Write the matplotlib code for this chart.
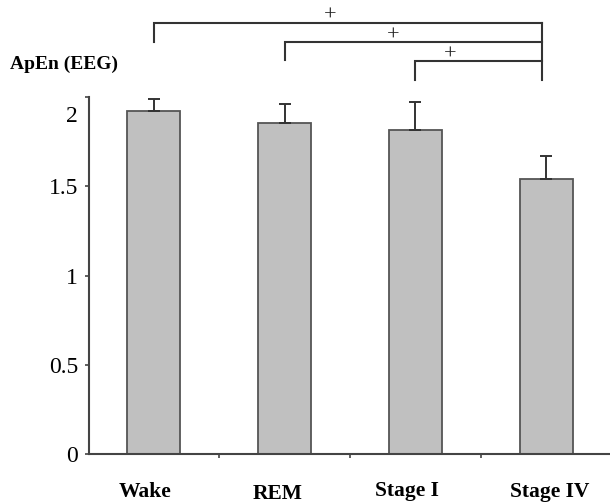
import matplotlib
matplotlib.use("Agg")
import matplotlib.pyplot as plt
import matplotlib.transforms as mtransforms
import numpy as np

categories = ["Wake", "REM", "Stage I", "Stage IV"]
values = [1.92, 1.852, 1.813, 1.539]
errors = [0.067, 0.107, 0.157, 0.129]
yticks = [0, 0.5, 1, 1.5, 2]
ytick_labels = ["0", "0.5", "1", "1.5", "2"]
# significance brackets: (left index, right index, bar y, left-leg bottom, plus x)
brackets = [(0, 3, 2.417, 2.306, 1.35),
            (1, 3, 2.306, 2.21, 1.83),
            (2, 3, 2.199, 2.093, 2.27)]

plt.rcParams['font.family'] = ['Liberation Serif', 'DejaVu Serif']

fig = plt.figure(figsize=(6.1, 5.04), dpi=100)
W, H = 610, 504
left, bottom, top, right = 89, 454, 97, 610
ax = fig.add_axes([left / W, 1 - bottom / H, (right - left) / W, (bottom - top) / H])

x = np.arange(len(categories))
axis_col = "#444444"
ax.bar(x, values, width=0.405, color="#c0c0c0", edgecolor="#555555", linewidth=1.3, zorder=2)
ax.errorbar(x, values, yerr=[np.zeros(len(errors)), errors], fmt="none",
            ecolor="#333333", elinewidth=1.4, capsize=4, capthick=1.4, zorder=3)

ax.set_xlim(-0.497, 3.489)
ax.set_ylim(0, 2)

for s in ["top", "right"]:
    ax.spines[s].set_visible(False)
for s in ["left", "bottom"]:
    ax.spines[s].set_color(axis_col)
    ax.spines[s].set_linewidth(1.5)

ax.set_yticks(yticks)
ax.set_yticklabels(ytick_labels, fontsize=17)
ax.tick_params(axis="y", direction="out", length=3, width=1.2, color=axis_col, pad=5)

ax.set_xticks(x)
ax.set_xticklabels(categories, fontsize=15.5, fontweight="bold")
ax.tick_params(axis="x", which="major", length=0, pad=20)
ax.set_xticks(x[:-1] + 0.5, minor=True)
ax.tick_params(axis="x", which="minor", direction="out", length=3, width=1.2, color=axis_col)

# small per-label offsets as in the reference
dx_px = [-9, -7, -8, 4]
dy_px = [0, -2, 1, 0]
for lab, dx, dy in zip(ax.get_xticklabels(), dx_px, dy_px):
    lab.set_transform(lab.get_transform() + mtransforms.ScaledTranslation(dx / 100, dy / 100, fig.dpi_scale_trans))
ylabs = ax.get_yticklabels()
ylabs[-1].set_transform(ylabs[-1].get_transform() + mtransforms.ScaledTranslation(0, -17 / 100, fig.dpi_scale_trans))

ax.text(10 / W, 1 - 64 / H, "ApEn (EEG)", transform=fig.transFigure, fontsize=14,
        fontweight="bold", ha="left", va="center")

bcol = "#333333"
for li, ri, yb, yl, px in brackets:
    xl = x[li]
    xr = x[ri] - 0.03
    ax.plot([xl, xl, xr], [yl, yb, yb], color=bcol, lw=1.5, clip_on=False,
            solid_joinstyle="miter")
    ax.text(px, yb + 0.035, "+", fontsize=16, ha="center", va="center", color="#222222",
            clip_on=False)
ax.plot([x[3] - 0.03, x[3] - 0.03], [brackets[0][2], brackets[2][3]], color=bcol, lw=1.5,
        clip_on=False)

fig.savefig("out.png", dpi=100)
